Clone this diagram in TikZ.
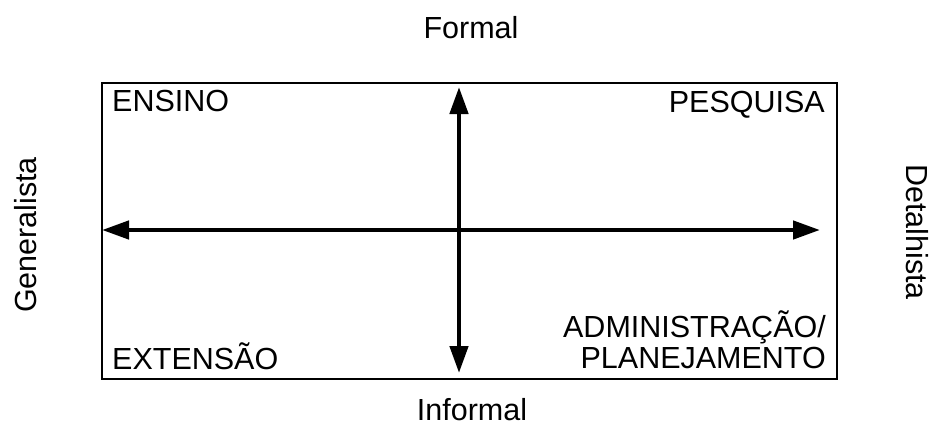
\documentclass[tikz,border=0pt]{standalone}
\usepackage{fontspec}
\setmainfont{Liberation Sans}
\usetikzlibrary{arrows.meta}
\begin{document}
\begin{tikzpicture}[x=1pt,y=-1pt,
  lbl/.style={inner sep=0pt, font=\fontsize{30.5}{31}\selectfont},
  tip/.tip={Triangle[length=27pt,width=18pt]},
  axis/.style={line width=4.5pt, tip-tip},
  frame/.style={draw, line width=2pt, inner sep=0pt}]
\useasboundingbox (0,0) rectangle (935,447);
\node[frame, minimum width=735pt, minimum height=296pt, anchor=north west] (box) at (101,82) {};
\coordinate (L) at (102,230);
\coordinate (R) at (820,230);
\coordinate (T) at (459,87);
\coordinate (B) at (459,373);
\draw[axis] (L) -- (R);
\draw[axis] (T) -- (B);
\node[lbl, anchor=base] (formal) at (471,38) {Formal};
\node[lbl, anchor=base] (informal) at (472,420) {Informal};
\node[lbl, anchor=base, rotate=90] (gen) at (36,235) {Generalista};
\node[lbl, anchor=base, rotate=-90] (det) at (906,232) {Detalhista};
\node[lbl, anchor=base west] (ensino) at (112,111) {ENSINO};
\node[lbl, anchor=base east] (pesq) at (825,112) {PESQUISA};
\node[lbl, anchor=base west] (ext) at (112,369) {EXTENSÃO};
\node[lbl, anchor=base east] (adm) at (826,337) {ADMINISTRAÇÃO/};
\node[lbl, anchor=base east] (plan) at (826,368) {PLANEJAMENTO};
\end{tikzpicture}
\end{document}
